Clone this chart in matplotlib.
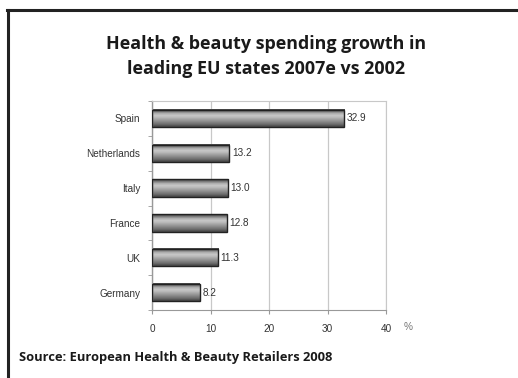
import matplotlib.pyplot as plt
import numpy as np
from matplotlib.lines import Line2D

countries = ['Spain', 'Netherlands', 'Italy', 'France', 'UK', 'Germany']
growth = [32.9, 13.2, 13.0, 12.8, 11.3, 8.2]
labels = ['32.9', '13.2', '13.0', '12.8', '11.3', '8.2']
xticks = [0, 10, 20, 30, 40]

fig = plt.figure(figsize=(5.18, 3.78), dpi=100)
ax = fig.add_axes([152/518, 1 - 310/378, 234/518, 209/378])

ypos = np.arange(len(countries))[::-1]
bar_h = 0.5

# cylinder-ish shading like the original
shade = np.array([0.3, 0.5, 0.68, 0.78, 0.74, 0.66, 0.58, 0.5, 0.42, 0.3]).reshape(-1, 1)
for y, v in zip(ypos, growth):
    ax.imshow(shade, cmap='gray', vmin=0, vmax=1, aspect='auto',
              extent=[0, v, y - bar_h/2, y + bar_h/2], zorder=2, interpolation='bilinear')
ax.barh(ypos, growth, height=bar_h, facecolor='none', edgecolor='#222222', linewidth=1.0, zorder=3)

for y, v, t in zip(ypos, growth, labels):
    ax.text(v + 0.45, y, t, va='center', ha='left', fontsize=7.2,
            family='Liberation Sans', color='#333333')

ax.set_xlim(0, 40)
ax.set_ylim(-0.5, len(countries) - 0.5)
ax.set_xticks(xticks)
ax.set_xticklabels([str(x) for x in xticks], fontsize=7.2, family='Liberation Sans', color='#333333')
ax.set_yticks(ypos)
ax.set_yticklabels(countries, fontsize=7.2, family='Liberation Sans', color='#333333')
ax.set_yticks(np.arange(-0.5, len(countries), 1), minor=True)
ax.tick_params(axis='y', which='major', length=0, pad=8.5)
ax.tick_params(axis='y', which='minor', length=3, color='#999999', direction='out')
ax.tick_params(axis='x', length=3, color='#999999', pad=7)
ax.grid(axis='x', color='#c8c8c8', linewidth=0.9, zorder=0)
ax.set_axisbelow(True)
for s in ['top', 'right']:
    ax.spines[s].set_color('#c8c8c8')
for s in ['left', 'bottom']:
    ax.spines[s].set_color('#999999')
ax.spines['left'].set_linewidth(1.0)

fig.text(408/518, 1 - 327/378, '%', fontsize=7.2, family='Liberation Sans',
         color='#777777', va='center', ha='center')

fig.text(266/518, 1 - 44/378, 'Health & beauty spending growth in', fontsize=12.9,
         fontweight='bold', family='Open Sans', ha='center', va='center', color='#1a1a1a')
fig.text(266/518, 1 - 69/378, 'leading EU states 2007e vs 2002', fontsize=12.9,
         fontweight='bold', family='Open Sans', ha='center', va='center', color='#1a1a1a')
fig.text(19/518, 1 - 357/378, 'Source: European Health & Beauty Retailers 2008', fontsize=9.3,
         fontweight='bold', family='Open Sans', ha='left', va='center', color='#1a1a1a')

# frame: left and top border
fig.add_artist(Line2D([7.5/518, 7.5/518], [0, 1 - 9.5/378], color='#222222', linewidth=2.2,
                      transform=fig.transFigure))
fig.add_artist(Line2D([6.5/518, 1], [1 - 9.5/378, 1 - 9.5/378], color='#222222', linewidth=2.2,
                      transform=fig.transFigure))

fig.savefig('out.png', dpi=100)
